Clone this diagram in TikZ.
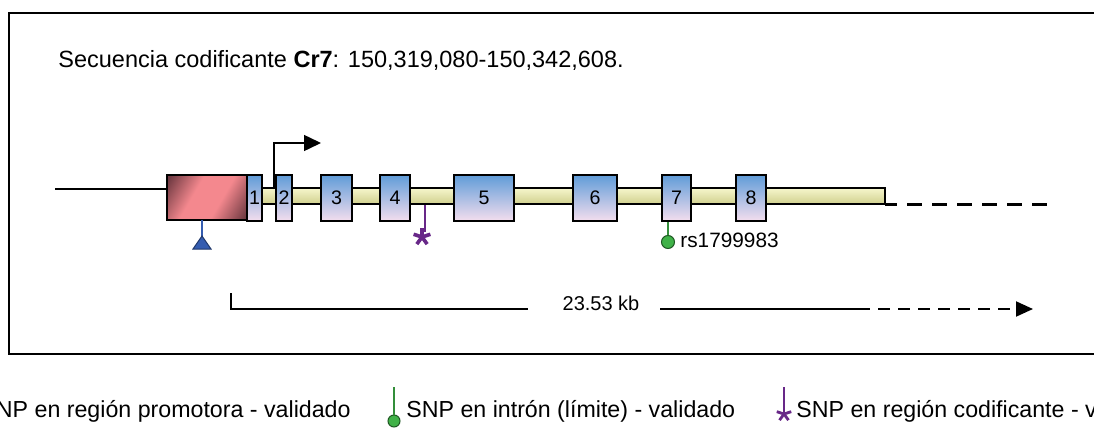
\documentclass[tikz,border=0pt]{standalone}
\usepackage{fontspec}
\setmainfont{Liberation Sans}
\usetikzlibrary{arrows.meta}

\definecolor{exontop}{RGB}{96,156,216}
\definecolor{exonbot}{RGB}{244,222,238}
\definecolor{promlight}{RGB}{244,136,142}
\definecolor{promdark}{RGB}{112,58,66}
\definecolor{bartop}{RGB}{246,246,204}
\definecolor{barbot}{RGB}{208,208,142}
\definecolor{snpblue}{RGB}{52,92,176}
\definecolor{snpgreen}{RGB}{64,178,72}
\definecolor{snppurple}{RGB}{104,40,136}

\pgfdeclarehorizontalshading{promshade}{100bp}{color(0bp)=(promdark); color(18bp)=(promdark); color(40bp)=(promlight); color(60bp)=(promlight); color(82bp)=(promdark); color(100bp)=(promdark)}

\tikzset{
  exonbox/.style={draw, line width=1pt, top color=exontop, bottom color=exonbot,
    minimum height=23pt, inner sep=0pt, font=\fontsize{9.8}{11}\selectfont},
  promobox/.style={draw, line width=1pt, shading=promshade, shading angle=-30,
    minimum width=40pt, minimum height=22.5pt, inner sep=0pt},
  introbar/.style={draw, line width=1pt, top color=bartop, bottom color=barbot},
  legtext/.style={inner sep=0pt, font=\fontsize{11.6}{13}\selectfont},
}

\begin{document}
\begin{tikzpicture}[x=0.5pt, y=-0.5pt]
    \useasboundingbox (0,0) rectangle (1094,429);
    \clip (0,0) rectangle (1094,429);
    \fill[white] (0,0) rectangle (1094,429);
    \draw [line width=1pt] (9,13) rectangle (1120,354); % frame

    \node [legtext, anchor=base west, font=\fontsize{11.75}{13}\selectfont] (title) at (58,67) {Secuencia codificante \textbf{Cr7}: 150,319,080-150,342,608.};

    % gene
    \coordinate (up) at (55,189);
    \draw [line width=0.75pt] (up) -- (167,189);
    \draw [introbar] (262,188) rectangle (885,204);
    \coordinate (barend) at (885,204);
    \coordinate (tail) at (1047,204);
    \draw [line width=1.5pt, dash pattern=on 7.5pt off 5pt, dash phase=1.5pt] (barend) -- (tail);

    \node [promobox] (prom) at (207,197.5) {};
    \node [exonbox, minimum width=7.5pt] (e1) at (254.5,198) {1};
    \node [exonbox, minimum width=8pt] (e2) at (284,198) {2};
    \node [exonbox, minimum width=15.5pt] (e3) at (336.5,198) {3};
    \node [exonbox, minimum width=15pt] (e4) at (395,198) {4};
    \node [exonbox, minimum width=30pt] (e5) at (484,198) {5};
    \node [exonbox, minimum width=22pt] (e6) at (595,198) {6};
    \node [exonbox, minimum width=14.5pt] (e7) at (676.5,198) {7};
    \node [exonbox, minimum width=15pt] (e8) at (751,198) {8};

    % start of transcription
    \coordinate (tss) at (274,189);
    \coordinate (tsstip) at (321,143);
    \draw [line width=0.75pt, -{Triangle[length=8.5pt, width=8pt]}] (tss) |- (tsstip);

    % SNPs
    \coordinate (snpa) at (202,236);
    \draw [snpblue, line width=1pt] (202,220) -- (snpa);
    \draw [fill=snpblue, draw=snpblue!60!black, line width=0.5pt] (snpa) -- (211,249) -- (193,249) -- cycle; % promotora
    \coordinate (snpb) at (422,237);
    \draw [snppurple, line width=1pt] (425,205) -- (425,232);
    \foreach \a in {90,162,234,306,18}
      \draw [snppurple, line width=1.8pt] (snpb) -- ++(\a:4.4pt); % codificante
    \node [circle, fill=snpgreen, draw=snpgreen!50!black, line width=0.5pt, minimum size=6.5pt, inner sep=0pt] (snpc) at (668,242) {};
    \draw [snpgreen!80!black, line width=0.75pt] (e7.south -| snpc) -- (snpc);
    \node [inner sep=0pt, anchor=base west, font=\fontsize{10.4}{12}\selectfont] (rs) at (680,247) {rs1799983};

    % scale
    \node [inner sep=0pt, font=\fontsize{10}{12}\selectfont] (kb) at (601,303) {23.53 kb};
    \coordinate (s0) at (231,293);
    \coordinate (s1) at (231,309);
    \coordinate (s2) at (528,309);
    \coordinate (s3) at (660,309);
    \coordinate (s4) at (858,309);
    \coordinate (s5) at (1033,309);
    \draw [line width=0.75pt] (s0) -- (s1) -- (s2);
    \draw [line width=0.75pt] (s3) -- (s4);
    \draw [line width=1pt, dash pattern=on 6pt off 4pt, -{Triangle[length=8.5pt, width=7.5pt]}] (s4) -- (s5);

    % legend
    \node [legtext, anchor=base east] (leg1) at (351,417) {SNP en región promotora - validado};
    \coordinate (gtop) at (394,387);
    \node [circle, fill=snpgreen, draw=snpgreen!50!black, line width=0.5pt, minimum size=6pt, inner sep=0pt] (gdot) at (394,421) {};
    \draw [snpgreen!80!black, line width=0.75pt] (gtop) -- (gdot);
    \node [legtext, anchor=base west] (leg2) at (406,417) {SNP en intrón (límite) - validado};
    \coordinate (ptop) at (784,387);
    \coordinate (pstar) at (784,414);
    \draw [snppurple, line width=1pt] (ptop) -- (pstar);
    \foreach \a in {90,162,234,306,18}
      \draw [snppurple, line width=1.4pt] (pstar) -- ++(\a:3.8pt);
    \node [legtext, anchor=base west] (leg3) at (796,417) {SNP en región codificante - validado};
\end{tikzpicture}
\end{document}
